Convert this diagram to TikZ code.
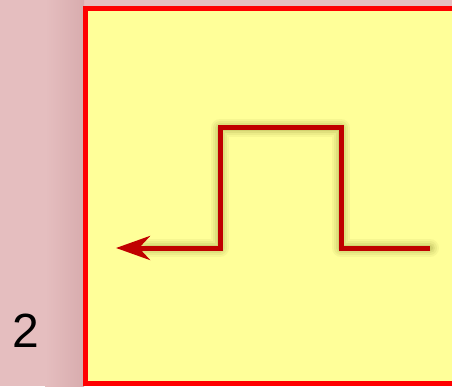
\documentclass[tikz,border=0pt]{standalone}
\usepackage{fontspec}
\setmainfont{Liberation Sans}
\usetikzlibrary{arrows.meta}
\definecolor{bgpink}{RGB}{229,190,191}
\definecolor{bgdark}{RGB}{216,172,174}
\definecolor{boxfill}{RGB}{255,255,153}
\definecolor{boxline}{RGB}{255,0,0}
\definecolor{pulse}{RGB}{192,0,0}
\definecolor{shade}{RGB}{140,140,50}
\tikzset{
  pulseline/.style={draw=pulse, line width=5pt, line join=miter},
  shadowline/.style={draw=shade, line join=round, line cap=round},
  panel/.style={draw=boxline, fill=boxfill, line width=5pt},
  numlabel/.style={font=\fontsize{48}{50}\selectfont, text=black, inner sep=0pt}
}
\begin{document}
\begin{tikzpicture}[x=1pt,y=1pt]
\useasboundingbox (0,0) rectangle (452,386);
% background
\fill[bgpink] (0,0) rectangle (452,386);
\shade[left color=bgpink, right color=bgdark] (45,0) rectangle (84,386);
% panel
\begin{scope}
\clip (0,0) rectangle (452,386);
\draw[panel] (85.5,2.5) rectangle (470,377.5);
\end{scope}
% coordinates of the pulse
\coordinate (A) at (430,138);
\coordinate (B) at (341,138);
\coordinate (C) at (341,258);
\coordinate (D) at (220,258);
\coordinate (E) at (220,138);
\coordinate (F) at (116,138);
% soft shadow
\begin{scope}[shift={(5,-5)}]
\foreach \w/\o in {18/0.07, 14/0.09, 10/0.12, 6/0.16}{
  \draw[shadowline, line width=\w pt, opacity=\o] (A) -- (B) -- (C) -- (D) -- (E) -- ([xshift=30]F);
}
\end{scope}
% pulse
\draw[pulseline, -{Stealth[length=34pt,width=24pt,inset=11pt]}] (A) -- (B) -- (C) -- (D) -- (E) -- (F);
% label
\node[numlabel] (num) at (26,55) {2};
\end{tikzpicture}
\end{document}
